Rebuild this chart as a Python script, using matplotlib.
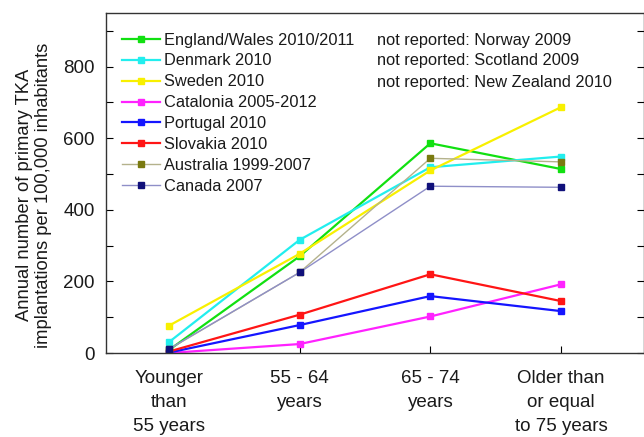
import matplotlib
matplotlib.use("Agg")
import matplotlib.pyplot as plt
from matplotlib.ticker import MultipleLocator

plt.rcParams['font.family'] = ['Liberation Sans', 'DejaVu Sans']

age_groups = ["Younger\nthan\n55 years", "55 - 64\nyears", "65 - 74\nyears",
              "Older than\nor equal\nto 75 years"]

england_wales = [8, 270, 586, 514]
denmark = [30, 316, 519, 549]
sweden = [76, 277, 510, 687]
catalonia = [0, 25, 102, 192]
portugal = [1, 78, 159, 117]
slovakia = [4, 107, 220, 145]
australia = [10, 225, 544, 534]
canada = [11, 225, 466, 463]

notes = ["not reported: Norway 2009",
         "not reported: Scotland 2009",
         "not reported: New Zealand 2010"]

series = [
    ("England/Wales 2010/2011", england_wales, "#11e011", "#11e011", 1.6),
    ("Denmark 2010", denmark, "#22eeee", "#22eeee", 1.6),
    ("Sweden 2010", sweden, "#f8f000", "#f8f000", 1.6),
    ("Catalonia 2005-2012", catalonia, "#ff22ff", "#ff22ff", 1.6),
    ("Portugal 2010", portugal, "#1515ff", "#1515ff", 1.6),
    ("Slovakia 2010", slovakia, "#ff1515", "#ff1515", 1.6),
    ("Australia 1999-2007", australia, "#b4b28c", "#7a7a10", 1.0),
    ("Canada 2007", canada, "#8f8fc8", "#10107a", 1.0),
]

W, H = 644, 437
fig = plt.figure(figsize=(W / 100, H / 100), dpi=100)
ax = fig.add_axes([106 / W, 84 / H, 537.5 / W, 340 / H])

x = list(range(1, len(age_groups) + 1))
for label, values, lc, mc, lw in series:
    ax.plot(x, values, color=lc, lw=lw, marker="s", markersize=5,
            markerfacecolor=mc, markeredgecolor=mc, label=label)

ax.set_xlim(0.52, 4.63)
ax.set_ylim(0, 950)
ax.set_xticks(x)
ax.set_xticklabels(age_groups, fontsize=13.5, linespacing=1.55, color="#1a1a1a")
ax.yaxis.set_major_locator(MultipleLocator(200))
ax.yaxis.set_minor_locator(MultipleLocator(100))
ax.tick_params(axis="y", which="both", direction="in", length=5, width=0.8,
               right=True, labelsize=13.5, pad=8, labelcolor="#1a1a1a")
ax.tick_params(axis="x", direction="in", length=5, width=0.8, pad=12)

ax.set_ylabel("Annual number of primary TKA\nimplantations per 100,000 inhabitants",
              fontsize=13.2, color="#1a1a1a", linespacing=1.15)
ax.yaxis.set_label_coords(-0.100, 0.465)

for sp in ax.spines.values():
    sp.set_color("#333333")
    sp.set_linewidth(1.0)

fs_leg = 11.8
leg = ax.legend(loc="upper left", bbox_to_anchor=(9.5 / 537.5, (353 - 26) / 340),
                frameon=False, fontsize=fs_leg, handlelength=2.3,
                handletextpad=0.25, labelspacing=0.36, borderaxespad=0.0)
for t in leg.get_texts():
    t.set_color("#1a1a1a")

for i, note in enumerate(notes):
    ax.text(377 / W, (H - 40 - i * 21) / H, note, transform=fig.transFigure,
            fontsize=fs_leg, color="#1a1a1a", va="center", ha="left")

fig.savefig("out.png", dpi=100)
